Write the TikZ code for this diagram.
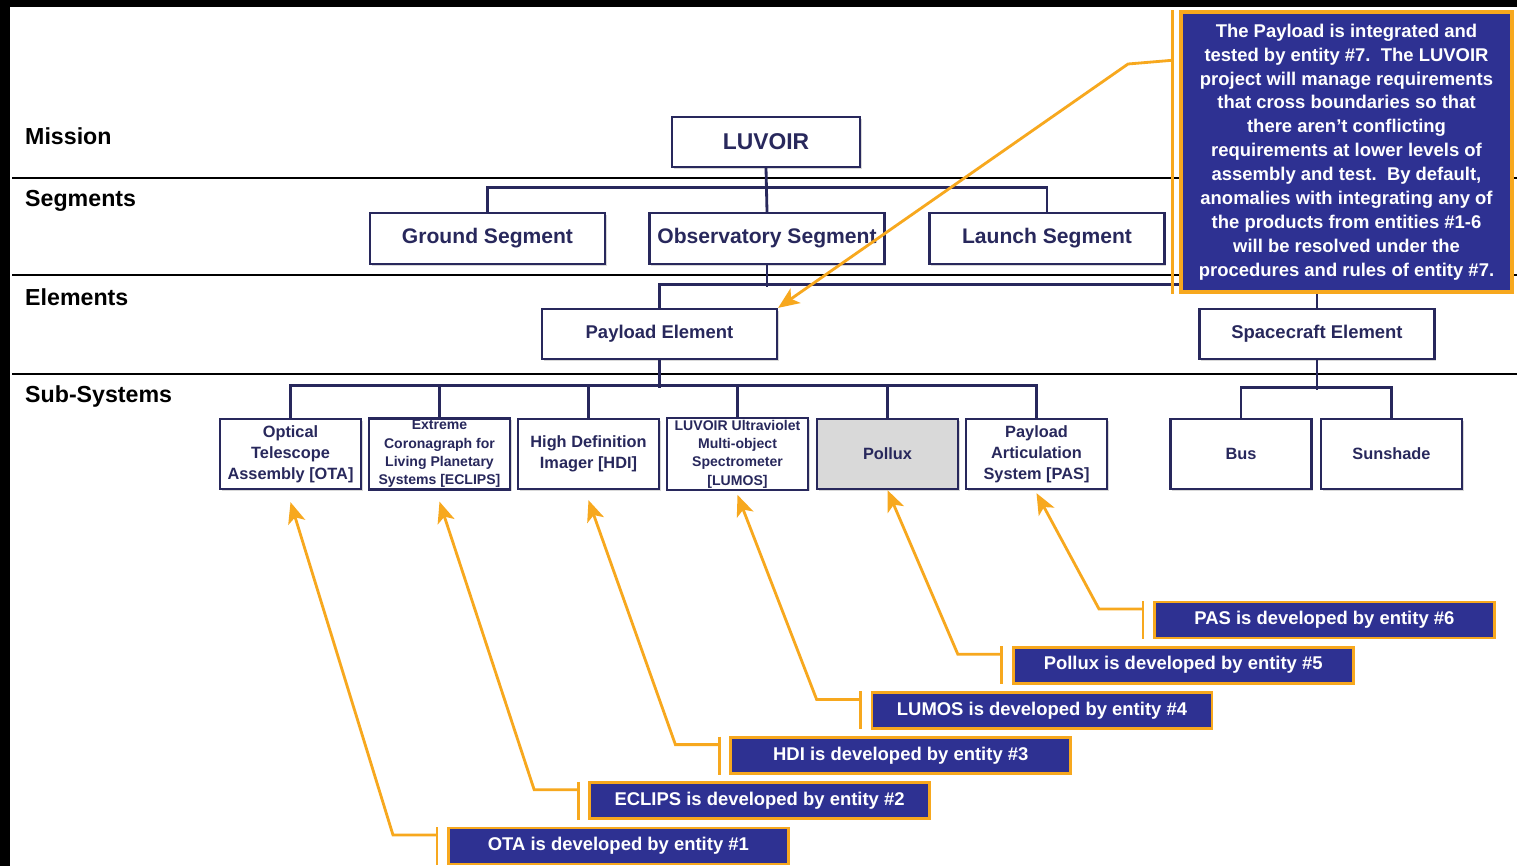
\documentclass[tikz,border=0pt]{standalone}
\usepackage{fontspec}
\setmainfont{Liberation Sans}
\usetikzlibrary{calc,shadows,arrows.meta}
\definecolor{navy}{RGB}{40,40,92}
\definecolor{noteblue}{RGB}{46,49,146}
\definecolor{leadorange}{RGB}{247,168,30}
\definecolor{polluxgray}{RGB}{217,217,217}
\begin{document}
\begin{tikzpicture}[x=0.02cm,y=-0.02cm,
    level/.style={anchor=west,font=\fontsize{13.2}{15}\selectfont\bfseries},
    box/.style={draw=navy,line width=1.3pt,fill=white,text=navy,align=center,inner sep=1pt,
      drop shadow={shadow xshift=1pt,shadow yshift=-1pt,opacity=0.3}},
    segbox/.style={box,minimum width=4.7cm,minimum height=1.02cm,font=\fontsize{12}{14}\selectfont\bfseries},
    elbox/.style={box,minimum width=4.7cm,minimum height=1cm,font=\fontsize{10.5}{12}\selectfont\bfseries},
    subbox/.style={box,minimum width=2.82cm,minimum height=1.4cm,font=\fontsize{9.3}{11.9}\selectfont\bfseries},
    smallsub/.style={subbox,font=\fontsize{8}{10.4}\selectfont\bfseries},
    tree/.style={draw=navy,line width=1.6pt},
    lead/.style={draw=leadorange,line width=1.6pt},
    pointer/.style={lead,-{Stealth[length=12pt,width=10pt,inset=3pt]}},
    note/.style={fill=noteblue,draw=leadorange,line width=1.6pt,text=white,
      minimum width=6.8cm,minimum height=0.72cm,font=\fontsize{10.5}{12}\selectfont\bfseries}]
  \useasboundingbox (0,0) rectangle (1517,866);
  \fill[black] (0,0) rectangle (1517,866);
  \fill[white] (10,7) rectangle (1517,866);
  % levels
  \draw[line width=1.1pt] (12,178) -- (1517,178);
  \draw[line width=1.1pt] (12,275) -- (1517,275);
  \draw[line width=1.1pt] (12,374) -- (1517,374);
  \node[level] (mission) at (19,136) {Mission};
  \node[level] (segments) at (19,201) {Segments};
  \node[level] (elements) at (19,297) {Elements};
  \node[level] (subsystems) at (19,396) {Sub-Systems};
  % hierarchy
  \node[box,minimum width=3.76cm,minimum height=1cm,font=\fontsize{13}{15}\selectfont\bfseries] (luvoir) at (766,142) {LUVOIR};
  \node[segbox] (ground) at (487.5,238.5) {Ground Segment};
  \node[segbox] (obs) at (767,238.5) {Observatory Segment};
  \node[segbox] (launch) at (1047,238.5) {Launch Segment};
  \node[elbox] (payload) at (659.5,334) {Payload Element};
  \node[elbox] (spacecraft) at (1317,334) {Spacecraft Element};
  \node[subbox] (ota) at (290.5,454) {Optical\\Telescope\\Assembly [OTA]};
  \node[smallsub] (eclips) at (439.5,454) {Extreme\\Coronagraph for\\Living Planetary\\Systems [ECLIPS]};
  \node[subbox] (hdi) at (588.5,454) {High Definition\\Imager [HDI]};
  \node[smallsub] (lumos) at (737.5,454) {LUVOIR Ultraviolet\\Multi-object\\Spectrometer\\{[LUMOS]}};
  \node[subbox,fill=polluxgray] (pollux) at (887.5,454) {Pollux};
  \node[subbox] (pas) at (1036.5,454) {Payload\\Articulation\\System [PAS]};
  \node[subbox] (bus) at (1241,454) {Bus};
  \node[subbox] (sunshade) at (1391.5,454) {Sunshade};
  \draw[tree] (luvoir.south) -- (obs.north);
  \draw[tree] (ground.north) -- ++(0,-24) -| (launch.north);
  \draw[tree] (obs.south) -- ++(0,22);
  \draw[tree] (payload.north) -- ++(0,-23) -| (spacecraft.north);
  \draw[tree] (payload.south) -- ++(0,28);
  \draw[tree] (ota.north) -- ++(0,-32) -| (pas.north);
  \foreach \sub in {eclips,hdi,lumos,pollux}
    \draw[tree] (\sub.north) -- ++(0,-32);
  \draw[tree] (spacecraft.south) -- ++(0,30);
  \draw[tree] (bus.north) -- ++(0,-30) -| (sunshade.north);
  % callout
  \node[fill=noteblue,draw=leadorange,line width=2pt,text=white,align=center,
    minimum width=6.62cm,minimum height=5.6cm,font=\fontsize{10.5}{13.6}\selectfont\bfseries]
    (payloadnote) at (1346.5,152) {The Payload is integrated and\\tested by entity \#7.\ \ The LUVOIR\\project will manage requirements\\that cross boundaries so that\\there aren’t conflicting\\requirements at lower levels of\\assembly and test.\ \ By default,\\anomalies with integrating any of\\the products from entities \#1-6\\will be resolved under the\\procedures and rules of entity \#7.};
  \coordinate (bend) at (1128,64);
  \draw[lead] ($(payloadnote.north west)+(-7,0)$) -- ($(payloadnote.south west)+(-7,0)$);
  \draw[pointer] ($(payloadnote.north west)+(-7,50)$) -- (bend) -- (payload.north east);
  % who develops what
  \foreach \sub/\abbr/\i/\gap in {ota/OTA/1/12,eclips/ECLIPS/2/11,hdi/HDI/3/10,lumos/LUMOS/4/4,pollux/Pollux/5/0,pas/PAS/6/3} {
    \node[note,anchor=west] (\sub note) at ({447+141.2*(\i-1)},{846-45.2*(\i-1)}) {\abbr\ is developed by entity \#\i};
    \draw[lead] ($(\sub note.west)+(-10,-19)$) -- ($(\sub note.west)+(-10,19)$);
    \draw[pointer] ($(\sub note.west)+(-10,-11)$) -- ++(-44,0) -- ($(\sub.south)+(0,\gap)$);
  }
\end{tikzpicture}
\end{document}
